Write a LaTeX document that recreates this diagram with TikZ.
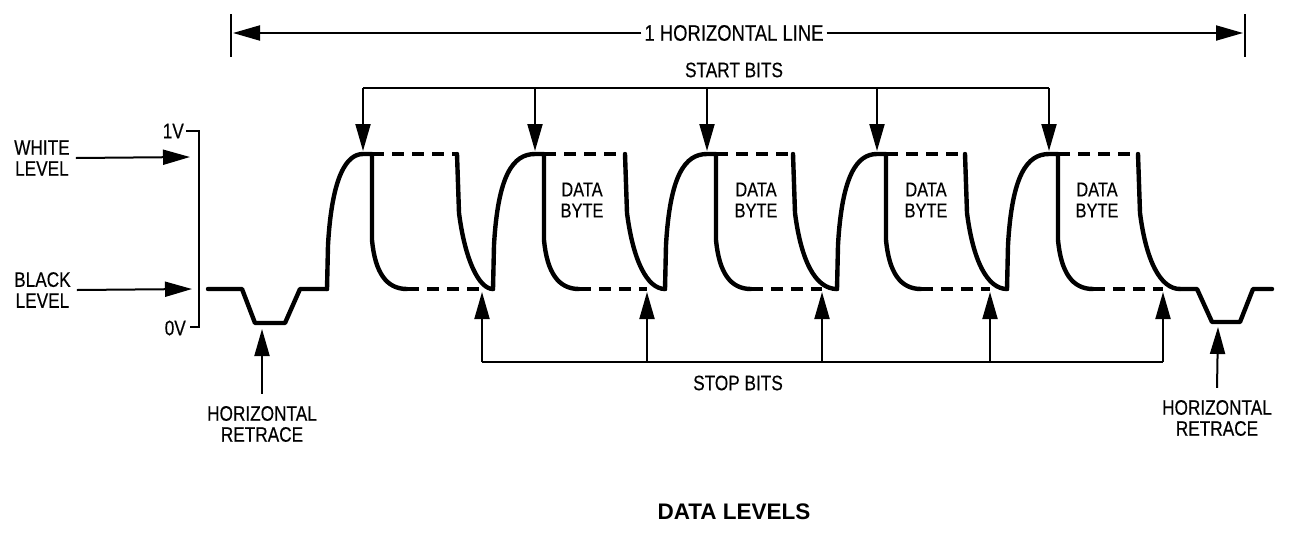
\documentclass[tikz,border=0pt]{standalone}
\usepackage{fontspec}
\setmainfont[FakeStretch=0.82,FakeBold=0.35]{Liberation Sans}
\newfontfamily\titlefont{Liberation Sans}
\usetikzlibrary{arrows.meta}
\begin{document}
\begin{tikzpicture}[x=1pt,y=-1pt,
  wave/.style={line width=4.4pt, line join=round, line cap=round},
  wdash/.style={line width=4.4pt, dash pattern=on 12pt off 8pt},
  thin/.style={line width=2pt},
  arr/.style={-{Triangle[length=27pt,width=15pt]}},
  lbl/.style={font=\fontsize{21}{21}\selectfont, inner sep=1pt, align=center},
  dlbl/.style={font=\fontsize{20}{21}\selectfont, inner sep=1pt, align=center},
]
\useasboundingbox (0,0) rectangle (1289,541);

% ---------- top dimension line ----------
\node[lbl, font=\fontsize{22.5}{22.5}\selectfont] (hl) at (734,33) {1 HORIZONTAL LINE};
\coordinate (hlL) at (233,33);
\coordinate (hlR) at (1243,33);
\draw[thin] (231,14) -- (231,57);
\draw[thin] (1245,14) -- (1245,57);
\draw[thin,arr] ([xshift=-2pt]hl.west) -- (hlL);
\draw[thin,arr] ([xshift=2pt]hl.east) -- (hlR);

% ---------- start bits ----------
\node[lbl] (start) at (734,70) {START BITS};
\draw[thin] (363,88) -- (1049,88);
\foreach \p [count=\i] in {363,535,707,877,1049}{
  \coordinate (sb\i) at (\p,88);
  \coordinate (st\i) at (\p,151);
  \draw[thin,arr] (sb\i) -- (st\i);
}

% ---------- stop bits ----------
\node[lbl] (stop) at (738,383) {STOP BITS};
\draw[thin] (482,362) -- (1163,362);
\foreach \q [count=\i] in {482,647,822,990,1163}{
  \coordinate (pb\i) at (\q,362);
  \coordinate (pt\i) at (\q,292);
  \draw[thin,arr] (pb\i) -- (pt\i);
}

% ---------- level scale ----------
\draw[thin] (186,131) -- (199,131) -- (199,327) -- (190,327);
\node[lbl, anchor=east] (v1) at (185,131) {1V};
\node[lbl, anchor=east] (v0) at (187,328) {0V};

\node[lbl, anchor=west] (wl) at (13,158) {WHITE\\LEVEL};
\coordinate (wtip) at (190,157);
\draw[thin,arr] ([xshift=5pt]wl.east) -- (wtip);

\node[lbl, anchor=west] (bl) at (13,290) {BLACK\\LEVEL};
\coordinate (btip) at (192,289);
\draw[thin,arr] ([xshift=5pt]bl.east) -- (btip);

% ---------- waveform ----------
\foreach \r/\p/\f/\s/\e/\q in {327/363/372/457/493/482, 493/535/544/625/665/647,
    665/707/716/793/837/822, 837/877/886/965/1007/990, 1007/1049/1058/1138/1180/1163}{
  \draw[wdash] (\f,154) -- (\s,154);
  \draw[wdash] (\f+35,289) -- (\q,289);
  \draw[wave] (\r,289) -- (\r+1,245) .. controls (\r+5,175) and (\r+20,154) .. (\p,154)
     -- (\f,154) -- (\f,240) .. controls (\f+3,272) and (\f+14,289) .. (\f+35,289);
  \draw[wave] (\s,154) -- (\s+2,213) .. controls (\s+8,260) and (\s+22,289) .. (\e,289);
}
% left retrace and lead-in
\draw[wave] (208,289) -- (242,289) -- (255,323) -- (285,323) -- (300,289) -- (327,289);
% right retrace
\draw[wave] (1180,289) -- (1197,289) -- (1212,322) -- (1240,322) -- (1253,289) -- (1272,289);

% ---------- data byte labels ----------
\foreach \x [count=\i] in {582,756,926,1097}{
  \node[dlbl] (db\i) at (\x,200) {DATA\\BYTE};
}

% ---------- horizontal retrace ----------
\node[lbl] (hr1) at (262,424) {HORIZONTAL\\RETRACE};
\coordinate (rt1) at (262,329);
\draw[thin,arr] ([yshift=11pt]hr1.north) -- (rt1);

\node[lbl] (hr2) at (1217,418) {HORIZONTAL\\RETRACE};
\coordinate (rt2) at (1218,327);
\draw[thin,arr] ([yshift=11pt]hr2.north) -- (rt2);

% ---------- title ----------
\node[font=\titlefont\bfseries\fontsize{22.5}{22.5}\selectfont, inner sep=1pt] (title) at (734,512) {DATA LEVELS};
\end{tikzpicture}
\end{document}
